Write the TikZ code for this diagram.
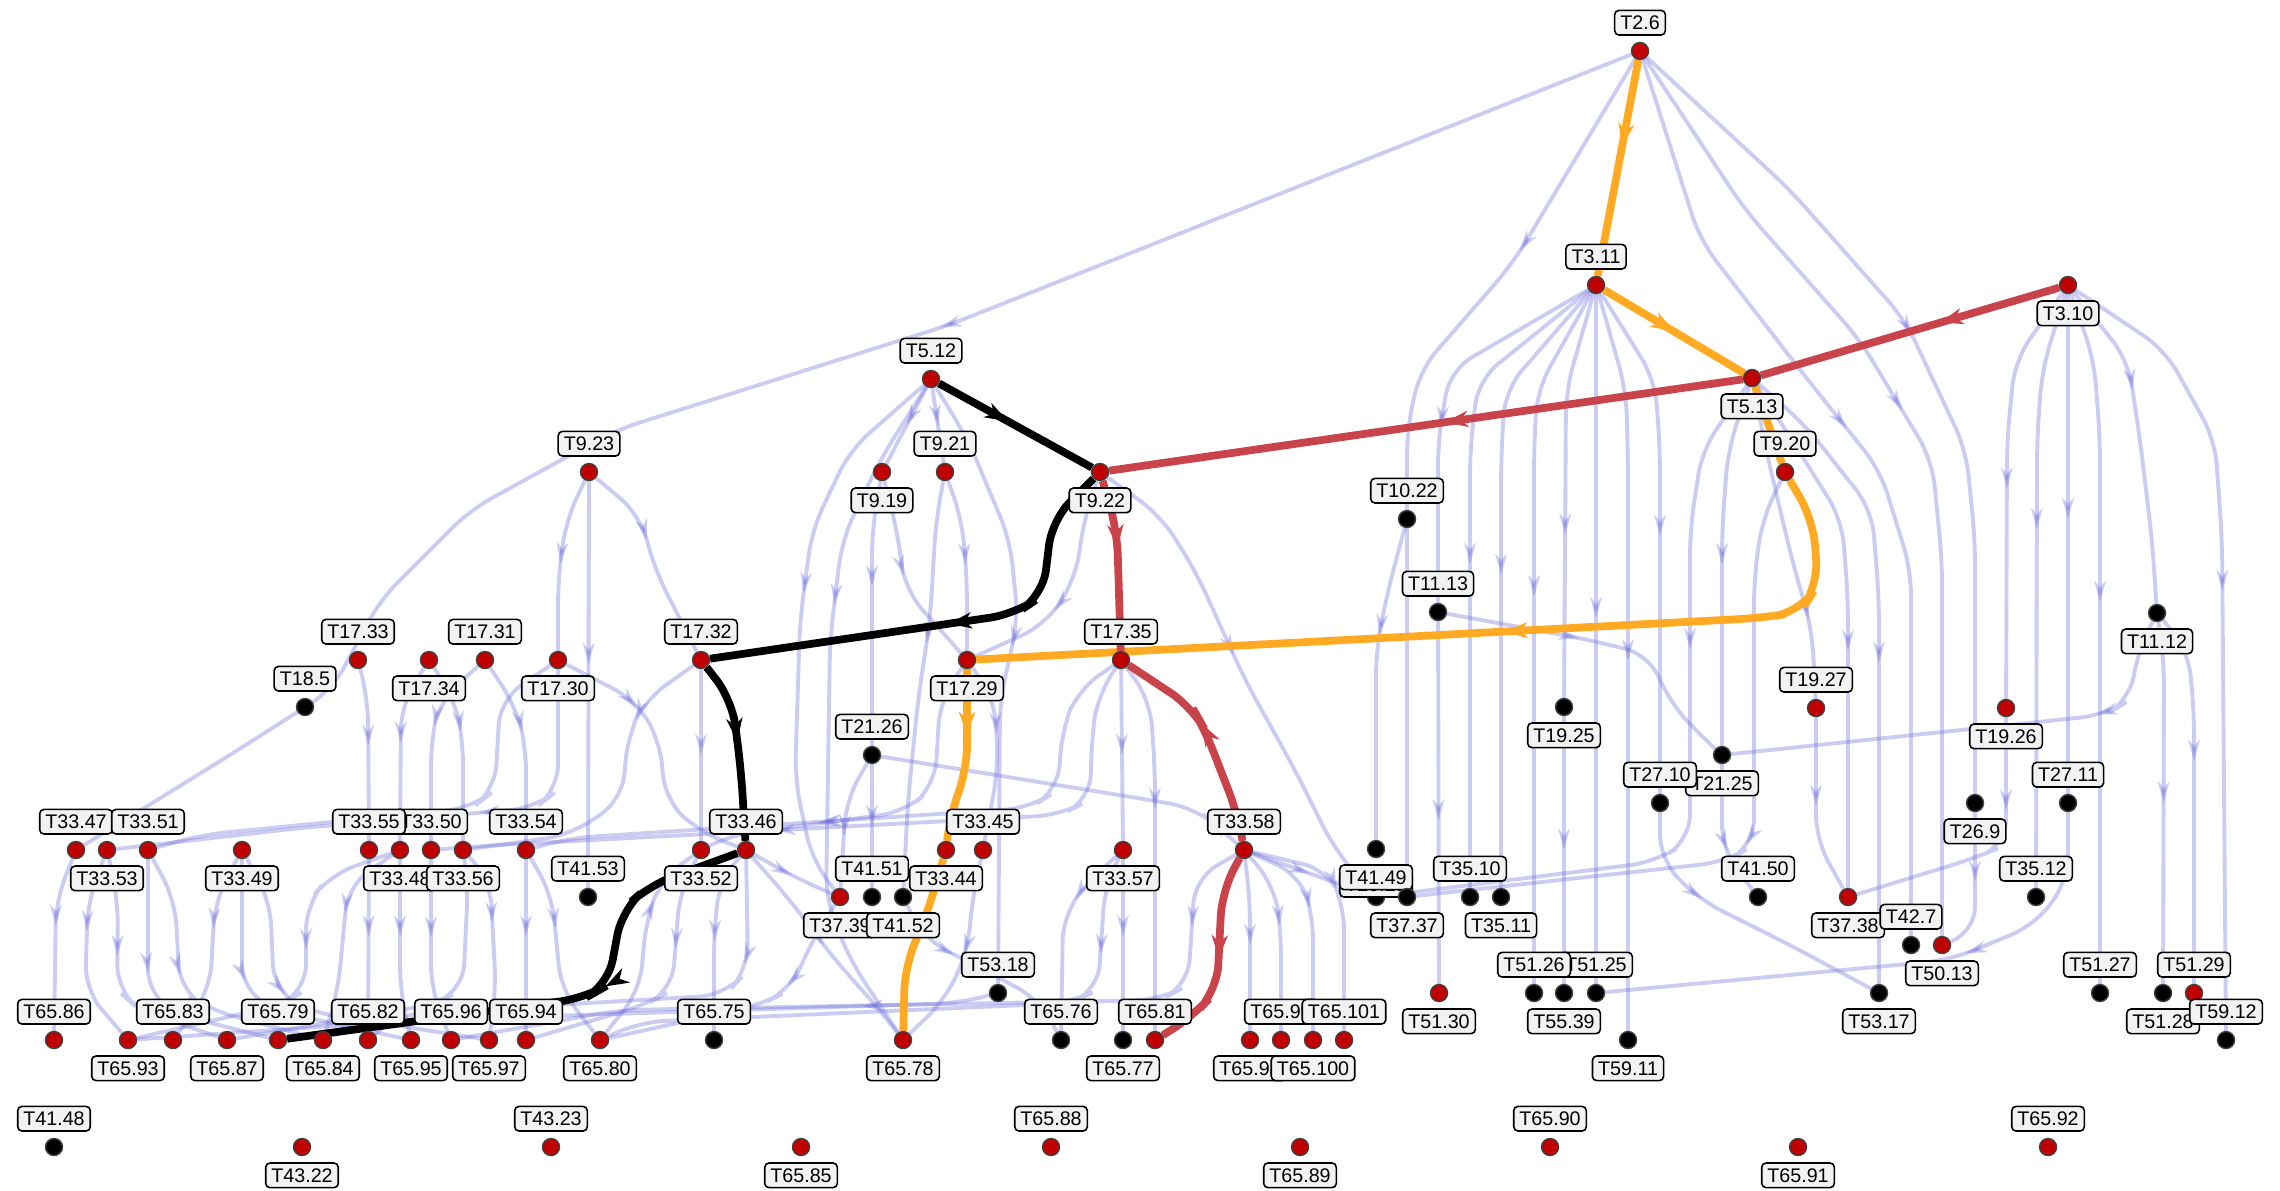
\documentclass[tikz,border=0pt]{standalone}
\usepackage{fontspec}
\setmainfont{Liberation Sans}
\usetikzlibrary{arrows.meta,decorations.markings}
\definecolor{flowblue}{RGB}{110,110,220}
\definecolor{dotred}{RGB}{192,0,0}
\definecolor{tagfill}{RGB}{242,242,242}
\definecolor{hlorange}{RGB}{255,170,34}
\definecolor{hlred}{RGB}{200,68,74}
\pgfdeclarelayer{bg}
\pgfsetlayers{bg,main}
\tikzset{
  dotR/.style={circle, draw=black!75, line width=.4pt, fill=dotred, minimum size=.17cm, inner sep=0pt},
  dotK/.style={dotR, fill=black},
  tag/.style={draw, fill=tagfill, rounded corners=1.2pt, line width=.45pt, inner xsep=1.6pt, inner ysep=1.3pt,
    text height=4.1pt, text depth=.3pt, font=\fontsize{5.6}{6}\selectfont},
  flow/.style={draw=flowblue, opacity=.35, line width=1.1pt, rounded corners=.25cm, postaction={decorate},
    decoration={markings, mark=at position #1 with {\arrow{Stealth[length=2.1mm,width=1.15mm,inset=.6mm]}}}},
  flow/.default=.5,
  hlplain/.style={line width=2.2pt, rounded corners=.25cm},
  hl/.style={hlplain, postaction={decorate},
    decoration={markings, mark=at position #1 with {\arrow{Stealth[length=2.3mm,width=1.6mm,inset=.7mm]}}}},
  hl/.default=.5
}
\begin{document}
\begin{tikzpicture}[x=0.01cm, y=-0.01cm, label distance=.06cm]
\useasboundingbox (0,0) rectangle (2280,1190);

% top levels
\node at (1640,51)  [dotR, label={[tag]above:T2.6}]  (t2-6)  {};
\node at (1596,285) [dotR, label={[tag]above:T3.11}] (t3-11) {};
\node at (2068,285) [dotR, label={[tag]below:T3.10}] (t3-10) {};
\node at (931,379)  [dotR, label={[tag]above:T5.12}] (t5-12) {};
\node at (1752,378) [dotR, label={[tag]below:T5.13}] (t5-13) {};
\node at (589,472)  [dotR, label={[tag]above:T9.23}] (t9-23) {};
\node at (882,472)  [dotR, label={[tag]below:T9.19}] (t9-19) {};
\node at (945,472)  [dotR, label={[tag]above:T9.21}] (t9-21) {};
\node at (1100,472) [dotR, label={[tag]below:T9.22}] (t9-22) {};
\node at (1785,472) [dotR, label={[tag]above:T9.20}] (t9-20) {};
\node at (1407,519) [dotK, label={[tag]above:T10.22}] (t10-22) {};
\node at (1438,612) [dotK, label={[tag]above:T11.13}] (t11-13) {};
\node at (2157,613) [dotK, label={[tag]below:T11.12}] (t11-12) {};

% T17 / T18 / T19 / T21 / T26 / T27
\node at (358,660)  [dotR, label={[tag]above:T17.33}] (t17-33) {};
\node at (429,660)  [dotR, label={[tag]below:T17.34}] (t17-34) {};
\node at (485,660)  [dotR, label={[tag]above:T17.31}] (t17-31) {};
\node at (558,660)  [dotR, label={[tag]below:T17.30}] (t17-30) {};
\node at (701,660)  [dotR, label={[tag]above:T17.32}] (t17-32) {};
\node at (967,660)  [dotR, label={[tag]below:T17.29}] (t17-29) {};
\node at (1121,660) [dotR, label={[tag]above:T17.35}] (t17-35) {};
\node at (305,707)  [dotK, label={[tag]above:T18.5}]  (t18-5)  {};
\node at (1564,707) [dotK, label={[tag]below:T19.25}] (t19-25) {};
\node at (1816,708) [dotR, label={[tag]above:T19.27}] (t19-27) {};
\node at (2006,708) [dotR, label={[tag]below:T19.26}] (t19-26) {};
\node at (872,755)  [dotK, label={[tag]above:T21.26}] (t21-26) {};
\node at (1722,755) [dotK, label={[tag]below:T21.25}] (t21-25) {};
\node at (1660,803) [dotK, label={[tag]above:T27.10}] (t27-10) {};
\node at (1975,803) [dotK, label={[tag]below:T26.9}]  (t26-9)  {};
\node at (2068,803) [dotK, label={[tag]above:T27.11}] (t27-11) {};

% T33 row
\node at (76,850)   [dotR, label={[tag]above:T33.47}] (t33-47) {};
\node at (107,850)  [dotR, label={[tag]below:T33.53}] (t33-53) {};
\node at (148,850)  [dotR, label={[tag]above:T33.51}] (t33-51) {};
\node at (242,850)  [dotR, label={[tag]below:T33.49}] (t33-49) {};
\node at (431,850)  [dotR, label={[tag]above:T33.50}] (t33-50) {};
\node at (369,850)  [dotR, label={[tag]above:T33.55}] (t33-55) {};
\node at (400,850)  [dotR, label={[tag]below:T33.48}] (t33-48) {};
\node at (463,850)  [dotR, label={[tag]below:T33.56}] (t33-56) {};
\node at (526,850)  [dotR, label={[tag]above:T33.54}] (t33-54) {};
\node at (701,850)  [dotR, label={[tag]below:T33.52}] (t33-52) {};
\node at (746,850)  [dotR, label={[tag]above:T33.46}] (t33-46) {};
\node at (946,850)  [dotR, label={[tag]below:T33.44}] (t33-44) {};
\node at (983,850)  [dotR, label={[tag]above:T33.45}] (t33-45) {};
\node at (1123,850) [dotR, label={[tag]below:T33.57}] (t33-57) {};
\node at (1244,850) [dotR, label={[tag]above:T33.58}] (t33-58) {};

% T35 / T37 / T41 / T42 / T50
\node at (588,897)  [dotK, label={[tag]above:T41.53}] (t41-53) {};
\node at (840,897)  [dotR, label={[tag]below:T37.39}] (t37-39) {};
\node at (872,897)  [dotK, label={[tag]above:T41.51}] (t41-51) {};
\node at (903,897)  [dotK, label={[tag]below:T41.52}] (t41-52) {};
\node at (1376,897) [dotK, label={[tag, yshift=-.16cm]above:T20.23}] (t20-23) {};
\node at (1376,849) [dotK, label={[tag]below:T41.49}] (t41-49) {};
\node at (1407,897) [dotK, label={[tag]below:T37.37}] (t37-37) {};
\node at (1470,897) [dotK, label={[tag]above:T35.10}] (t35-10) {};
\node at (1501,897) [dotK, label={[tag]below:T35.11}] (t35-11) {};
\node at (1758,897) [dotK, label={[tag]above:T41.50}] (t41-50) {};
\node at (1848,897) [dotR, label={[tag]below:T37.38}] (t37-38) {};
\node at (2036,897) [dotK, label={[tag]above:T35.12}] (t35-12) {};
\node at (1911,945) [dotK, label={[tag]above:T42.7}]  (t42-7)  {};
\node at (1942,945) [dotR, label={[tag]below:T50.13}] (t50-13) {};

% T51 / T53 / T55
\node at (998,993)  [dotK, label={[tag]above:T53.18}] (t53-18) {};
\node at (1439,993) [dotR, label={[tag]below:T51.30}] (t51-30) {};
\node at (1596,993) [dotK, label={[tag]above:T51.25}] (t51-25) {};
\node at (1534,993) [dotK, label={[tag]above:T51.26}] (t51-26) {};
\node at (1564,993) [dotK, label={[tag]below:T55.39}] (t55-39) {};
\node at (1879,993) [dotK, label={[tag]below:T53.17}] (t53-17) {};
\node at (2100,993) [dotK, label={[tag]above:T51.27}] (t51-27) {};
\node at (2163,993) [dotK, label={[tag]below:T51.28}] (t51-28) {};
\node at (2194,993) [dotR, label={[tag]above:T51.29}] (t51-29) {};

% T65 row
\node at (54,1040)   [dotR, label={[tag]above:T65.86}] (t65-86) {};
\node at (128,1040)  [dotR, label={[tag]below:T65.93}] (t65-93) {};
\node at (173,1040)  [dotR, label={[tag]above:T65.83}] (t65-83) {};
\node at (227,1040)  [dotR, label={[tag]below:T65.87}] (t65-87) {};
\node at (278,1040)  [dotR, label={[tag]above:T65.79}] (t65-79) {};
\node at (323,1040)  [dotR, label={[tag]below:T65.84}] (t65-84) {};
\node at (368,1040)  [dotR, label={[tag]above:T65.82}] (t65-82) {};
\node at (411,1040)  [dotR, label={[tag]below:T65.95}] (t65-95) {};
\node at (451,1040)  [dotR, label={[tag]above:T65.96}] (t65-96) {};
\node at (489,1040)  [dotR, label={[tag]below:T65.97}] (t65-97) {};
\node at (526,1040)  [dotR, label={[tag]above:T65.94}] (t65-94) {};
\node at (600,1040)  [dotR, label={[tag]below:T65.80}] (t65-80) {};
\node at (714,1040)  [dotK, label={[tag]above:T65.75}] (t65-75) {};
\node at (903,1040)  [dotR, label={[tag]below:T65.78}] (t65-78) {};
\node at (1061,1040) [dotK, label={[tag]above:T65.76}] (t65-76) {};
\node at (1123,1040) [dotK, label={[tag]below:T65.77}] (t65-77) {};
\node at (1155,1040) [dotR, label={[tag]above:T65.81}] (t65-81) {};
\node at (1250,1040) [dotR, label={[tag]below:T65.98}] (t65-98) {};
\node at (1281,1040) [dotR, label={[tag]above:T65.99}] (t65-99) {};
\node at (1313,1040) [dotR, label={[tag]below:T65.100}] (t65-100) {};
\node at (1344,1040) [dotR, label={[tag]above:T65.101}] (t65-101) {};
\node at (1628,1040) [dotK, label={[tag]below:T59.11}] (t59-11) {};
\node at (2226,1040) [dotK, label={[tag]above:T59.12}] (t59-12) {};

% unconnected bottom row
\node at (54,1147)   [dotK, label={[tag]above:T41.48}] (t41-48) {};
\node at (302,1147)  [dotR, label={[tag]below:T43.22}] (t43-22) {};
\node at (551,1147)  [dotR, label={[tag]above:T43.23}] (t43-23) {};
\node at (801,1147)  [dotR, label={[tag]below:T65.85}] (t65-85) {};
\node at (1051,1147) [dotR, label={[tag]above:T65.88}] (t65-88) {};
\node at (1300,1147) [dotR, label={[tag]below:T65.89}] (t65-89) {};
\node at (1550,1147) [dotR, label={[tag]above:T65.90}] (t65-90) {};
\node at (1798,1147) [dotR, label={[tag]below:T65.91}] (t65-91) {};
\node at (2048,1147) [dotR, label={[tag]above:T65.92}] (t65-92) {};

\begin{pgfonlayer}{bg}
\fill[white] (0,0) rectangle (2280,1190);

% from T2.6
\draw[flow=.42] (t2-6) -- (949,325) -- (616,430) -- (470,510) -- (380,600) -- (332,690) -- (230,755) -- (t33-47);
\draw[flow=.25] (t2-6) -- (1513,263) -- (1420,370) -- (1407,430) -- (t37-37);
\draw[flow=.45] (t2-6) -- (1700,240) -- (1800,370) -- (1880,470) -- (1911,570) -- (t42-7);
\draw[flow=.45] (t2-6) -- (1745,210) -- (1860,340) -- (1932,460) -- (1942,560) -- (t50-13);
\draw[flow=.45] (t2-6) -- (1790,190) -- (1905,320) -- (1966,450) -- (1975,540) -- (t26-9);

% from T3.11
\draw[flow=.55] (t3-11) -- (1450,370) -- (1438,440) -- (t11-13);
\draw[flow] (t3-11) -- (1478,380) -- (1470,450) -- (t35-10);
\draw[flow] (t3-11) -- (1505,390) -- (1501,460) -- (t35-11);
\draw[flow=.45] (t3-11) -- (1537,390) -- (1534,450) -- (t51-26);
\draw[flow=.6] (t3-11) -- (1566,390) -- (t19-25);
\draw[flow=.47] (t3-11) -- (t51-25);
\draw[flow] (t3-11) -- (1626,390) -- (1628,460) -- (t59-11);
\draw[flow] (t3-11) -- (1655,380) -- (1660,450) -- (t27-10);
\draw[flow] (t19-25) -- (t55-39);
\draw[flow=.55] (t11-13) -- (t51-30);
\draw[flow=.4] (t11-13) -- (1590,640) -- (1650,655) -- (1668,700) -- (1700,735) -- (t21-25);
\draw[flow=.35] (t10-22) -- (1388,590) -- (1376,650) -- (t41-49);

% from T5.13 and T9.20
\draw[flow=.35] (t5-13) -- (1702,450) -- (1690,530) -- (1690,840) -- (1655,862) -- (1430,890) -- (t20-23);
\draw[flow] (t5-13) -- (1728,450) -- (1722,530) -- (t21-25);
\draw[flow=.65] (t21-25) -- (1722,850) -- (t41-50);
\draw[flow=.55] (t5-13) -- (1792,440) -- (1842,520) -- (1848,600) -- (t37-38);
\draw[flow] (t5-13) -- (1805,425) -- (1872,510) -- (1879,600) -- (t53-17);
\draw[flow=.75] (t5-13) -- (1766,450) -- (1792,560) -- (1812,630) -- (t19-27);
\draw[flow] (t9-20) -- (1762,520) -- (1754,580) -- (1754,845) -- (1725,862) -- (1450,892) -- (t37-37);

% from T3.10 and T11.12
\draw[flow] (t3-10) -- (2015,360) -- (2007,440) -- (t19-26);
\draw[flow=.4] (t3-10) -- (2042,370) -- (2037,440) -- (t35-12);
\draw[flow=.45] (t3-10) -- (t27-11);
\draw[flow=.45] (t3-10) -- (2094,360) -- (2100,440) -- (t51-27);
\draw[flow=.35] (t3-10) -- (2128,360) -- (2140,440) -- (2152,540) -- (t11-12);
\draw[flow=.45] (t3-10) -- (2165,350) -- (2215,440) -- (2222,540) -- (t59-12);
\draw[flow] (t11-12) -- (2164,660) -- (t51-28);
\draw[flow=.4] (t11-12) -- (2188,650) -- (2194,710) -- (t51-29);
\draw[flow=.3] (t11-12) -- (2138,650) -- (2130,700) -- (2105,715) -- (t21-25);

% lower right
\draw[flow=.3] (t19-26) -- (2006,845) -- (1975,858) -- (t37-38);
\draw[flow] (t19-27) -- (1816,840) -- (t37-38);
\draw[flow] (t26-9) -- (1975,932) -- (t50-13);
\draw[flow=.35] (t27-11) -- (2068,880) -- (2035,925) -- (1950,960) -- (t51-25);
\draw[flow=.35] (t27-10) -- (1660,860) -- (1700,900) -- (1790,945) -- (t53-17);

% centre
\draw[flow] (t5-12) -- (t9-19);
\draw[flow] (t5-12) -- (t9-21);
\draw[flow=.45] (t5-12) -- (850,450) -- (812,530) -- (800,620) -- (795,780) -- (812,860) -- (t37-39);
\draw[flow=.35] (t5-12) -- (880,460) -- (842,540) -- (830,640) -- (826,900) -- (850,960) -- (t65-78);
\draw[flow=.45] (t5-12) -- (968,440) -- (1010,540) -- (1018,620) -- (1000,700) -- (t53-18);
\draw[flow=.4] (t9-19) -- (872,530) -- (t21-26);
\draw[flow] (t9-19) -- (897,530) -- (905,590) -- (t17-29);
\draw[flow] (t9-21) -- (962,520) -- (967,580) -- (t17-29);
\draw[flow=.4] (t9-21) -- (936,520) -- (930,620) -- (918,700) -- (908,800) -- (t41-52);
\draw[flow=.6] (t9-22) -- (1085,515) -- (1075,580) -- (1045,625) -- (t17-29);
\draw[flow=.45] (t9-22) -- (1160,515) -- (1195,570) -- (1245,680) -- (1295,770) -- (1335,850) -- (t20-23);
\draw[flow] (t9-23) -- (566,520) -- (558,580) -- (t17-30);
\draw[flow=.45] (t9-23) -- (t41-53);
\draw[flow=.4] (t9-23) -- (640,515) -- (655,570) -- (683,625) -- (t17-32);

\draw[flow=.45] (t17-33) -- (368,700) -- (t33-55);
\draw[flow=.45] (t17-34) -- (401,705) -- (t33-48);
\draw[flow=.45] (t17-34) -- (455,700) -- (463,740) -- (t33-56);
\draw[flow=.45] (t17-31) -- (440,700) -- (431,740) -- (t33-50);
\draw[flow=.45] (t17-31) -- (515,705) -- (526,745) -- (t33-54);
\draw[flow=.4] (t17-30) -- (558,790) -- (535,808) -- (300,828) -- (t33-53);
\draw[flow=.55] (t17-30) -- (500,700) -- (495,790) -- (472,808) -- (200,835) -- (t33-51);
\draw[flow=.3] (t17-30) -- (635,700) -- (660,740) -- (665,800) -- (700,832) -- (t33-46);
\draw[flow] (t17-32) -- (t33-52);
\draw[flow=.3] (t17-32) -- (645,700) -- (628,735) -- (622,800) -- (570,835) -- (t33-56);
\draw[flow=.4] (t17-29) -- (995,700) -- (998,770) -- (t33-45);
\draw[flow=.7] (t17-29) -- (940,700) -- (935,785) -- (905,812) -- (730,835) -- (t33-52);
\draw[flow] (t17-35) -- (t33-57);
\draw[flow=.4] (t17-35) -- (1150,700) -- (1155,770) -- (t65-81);
\draw[flow=.6] (t17-35) -- (1078,690) -- (1062,730) -- (1058,790) -- (1030,808) -- (570,838) -- (t33-54);
\draw[flow=.6] (t17-35) -- (1098,695) -- (1092,735) -- (1090,800) -- (1060,815) -- (480,846) -- (t33-50);
\draw[flow] (t21-26) -- (t41-51);
\draw[flow=.6] (t21-26) -- (846,800) -- (t37-39);
\draw[flow=.85] (t21-26) -- (1150,800) -- (1195,808) -- (1222,830) -- (t33-58);

% to the T65 row
\draw[flow=.45] (t33-57) -- (t65-77);
\draw[flow=.35] (t33-57) -- (1090,880) -- (1063,915) -- (t65-76);
\draw[flow=.15] (t33-57) -- (1105,885) -- (1098,990) -- (1070,1003) -- (640,1022) -- (t65-80);
\draw[flow] (t33-58) -- (1250,900) -- (t65-98);
\draw[flow=.45] (t33-58) -- (1274,885) -- (1281,930) -- (t65-99);
\draw[flow=.45] (t33-58) -- (1300,875) -- (1313,915) -- (t65-100);
\draw[flow=.45] (t33-58) -- (1328,870) -- (1344,905) -- (t65-101);
\draw[flow] (t33-58) -- (t20-23);
\draw[flow=.1] (t33-58) -- (1195,878) -- (1188,985) -- (1160,1000) -- (620,1010) -- (t65-96);
\draw[flow] (t33-45) -- (972,900) -- (968,950) -- (945,1000) -- (t65-78);
\draw[flow=.15] (t53-18) -- (960,1003) -- (420,1020) -- (t65-93);
\draw[flow] (t33-46) -- (800,880) -- (t37-39);
\draw[flow] (t33-46) -- (790,900) -- (835,960) -- (880,1010) -- (t65-78);
\draw[flow] (t33-46) -- (720,880) -- (714,930) -- (t65-75);
\draw[flow=.2] (t33-46) -- (748,970) -- (725,995) -- (400,1014) -- (t65-82);
\draw[flow=.3] (t33-52) -- (662,878) -- (646,920) -- (640,990) -- (t65-80);
\draw[flow=.3] (t33-52) -- (680,890) -- (672,990) -- (645,1005) -- (t65-94);
\draw[flow=.35] (t41-52) -- (925,940) -- (975,965) -- (1040,1000) -- (t65-76);
\draw[flow=.3] (t37-39) -- (815,935) -- (790,990) -- (760,1005) -- (t65-80);
\draw[flow=.4] (t33-47) -- (56,900) -- (t65-86);
\draw[flow=.4] (t33-53) -- (88,900) -- (85,990) -- (t65-93);
\draw[flow=.35] (t33-53) -- (118,900) -- (117,990) -- (140,1010) -- (t65-87);
\draw[flow=.4] (t33-51) -- (148,995) -- (180,1015) -- (t65-79);
\draw[flow=.4] (t33-51) -- (175,900) -- (180,990) -- (210,1010) -- (t65-84);
\draw[flow=.4] (t33-49) -- (215,900) -- (210,990) -- (t65-83);
\draw[flow=.4] (t33-49) -- (242,990) -- (280,1012) -- (t65-95);
\draw[flow=.4] (t33-49) -- (270,900) -- (274,990) -- (310,1012) -- (t65-97);
\draw[flow=.4] (t33-48) -- (330,875) -- (306,905) -- (306,990) -- (280,1005) -- (t65-93);
\draw[flow=.4] (t33-48) -- (348,885) -- (338,990) -- (t65-84);
\draw[flow=.45] (t33-55) -- (t65-82);
\draw[flow=.45] (t33-48) -- (400,990) -- (t65-95);
\draw[flow=.45] (t33-50) -- (431,990) -- (t65-96);
\draw[flow=.4] (t33-56) -- (468,885) -- (463,990) -- (430,1005) -- (t65-87);
\draw[flow=.4] (t33-56) -- (490,880) -- (496,990) -- (t65-97);
\draw[flow=.45] (t33-54) -- (t65-94);
\draw[flow=.4] (t33-54) -- (552,895) -- (561,990) -- (t65-80);

% highlighted paths
\draw[hl=.4, draw=hlorange] (t2-6) -- (t3-11);
\draw[hl, draw=hlorange] (t3-11) -- (t5-13);
\draw[hlplain, draw=hlorange] (t5-13) -- (t9-20);
\draw[hl=.48, draw=hlorange] (t9-20) -- (1813,520) -- (1818,585) -- (1800,612) -- (1760,618) -- (t17-29);
\draw[hl=.37, draw=hlorange] (t17-29) -- (967,770) -- (950,815) -- (t33-44);
\draw[hlplain, draw=hlorange] (t33-44) -- (925,920) -- (905,965) -- (t65-78);
\draw[hl=.4, draw=hlred] (t3-10) -- (t5-13);
\draw[hl=.47, draw=hlred] (t5-13) -- (t9-22);
\draw[hl=.4, draw=hlred] (t9-22) -- (1117,530) -- (t17-35);
\draw[hl=.4, draw=hlred] (t17-35) -- (1192,707) -- (1205,730) -- (1238,815) -- (t33-58);
\draw[hl=.45, draw=hlred] (t33-58) -- (1222,891) -- (1217,990) -- (1192,1017) -- (t65-81);
\draw[hl=.45, draw=black] (t5-12) -- (t9-22);
\draw[hl=.52, draw=black] (t9-22) -- (1052,520) -- (1043,595) -- (1015,614) -- (t17-32);
\draw[hl=.45, draw=black] (t17-32) -- (732,700) -- (741,770) -- (t33-46);
\draw[hl=.46, draw=black] (t33-46) -- (650,885) -- (622,910) -- (608,985) -- (585,998) -- (t65-79);
\end{pgfonlayer}
\end{tikzpicture}
\end{document}
